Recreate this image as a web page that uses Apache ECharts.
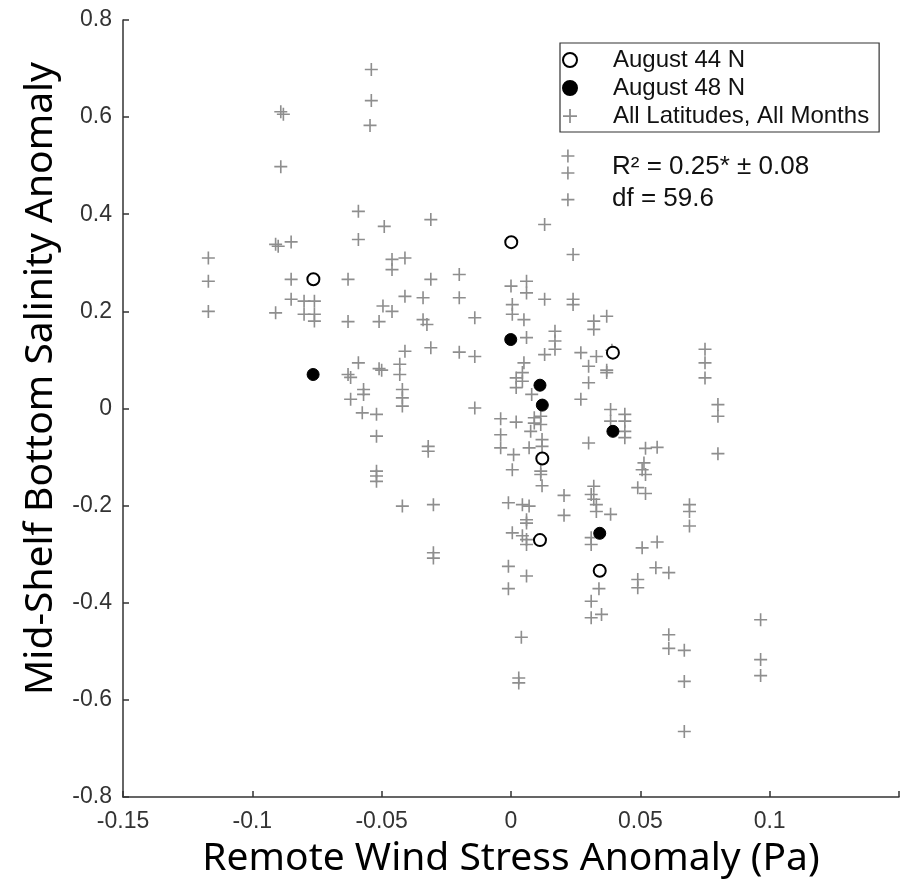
<!DOCTYPE html>
<html>
<head>
<meta charset="utf-8">
<script src="https://cdn.jsdelivr.net/npm/echarts@6/dist/echarts.min.js"></script>
<style>
  html, body { margin: 0; padding: 0; background: #ffffff; }
  #chart { width: 913px; height: 879px; }
</style>
</head>
<body>
<div id="chart"></div>
<script>
// Axis ranges and ticks
const xTicks = { min: -0.15, max: 0.15, step: 0.05 };
const yTicks = { min: -0.8, max: 0.8, step: 0.2 };

// Remote wind stress anomaly (Pa), bottom salinity anomaly
const august44N = [
  [-0.0764, 0.266], [0.0001, 0.3425], [0.0394, 0.115],
  [0.0121, -0.103], [0.0112, -0.271], [0.0343, -0.334]
];

const august48N = [
  [-0.0765, 0.070], [-0.0001, 0.142], [0.0112, 0.048],
  [0.0121, 0.007], [0.0394, -0.047], [0.0343, -0.257]
];

const allLatitudesAllMonths = [
  [-0.054, 0.698], [-0.054, 0.634], [-0.0545, 0.583], [-0.089, 0.611], [-0.088, 0.606],
  [-0.089, 0.498], [-0.059, 0.406], [-0.049, 0.375], [-0.059, 0.348], [-0.091, 0.338],
  [-0.090, 0.334], [-0.085, 0.343], [-0.117, 0.310], [-0.117, 0.262], [-0.085, 0.266],
  [-0.063, 0.266], [-0.046, 0.307], [-0.041, 0.310], [-0.046, 0.286], [-0.041, 0.231],
  [-0.117, 0.200], [-0.091, 0.197], [-0.085, 0.225], [-0.080, 0.221], [-0.076, 0.221],
  [-0.080, 0.194], [-0.076, 0.194], [-0.076, 0.180], [-0.063, 0.179], [-0.051, 0.179],
  [-0.0495, 0.211], [-0.046, 0.200], [-0.059, 0.094], [-0.063, 0.070], [-0.062, 0.064],
  [-0.051, 0.082], [-0.050, 0.079], [-0.041, 0.118], [-0.043, 0.091], [-0.043, 0.070],
  [-0.042, 0.039], [-0.042, 0.022], [-0.042, 0.005], [-0.057, 0.039], [-0.057, 0.029],
  [-0.062, 0.019], [-0.0575, -0.009], [-0.052, -0.012], [-0.052, -0.057], [-0.052, -0.129],
  [-0.052, -0.139], [-0.052, -0.150], [-0.042, -0.201],
  [0.022, 0.520], [0.022, 0.485], [0.022, 0.430], [-0.031, 0.389], [0.013, 0.379],
  [0.024, 0.317], [-0.031, 0.266], [-0.020, 0.276], [-0.034, 0.228], [-0.020, 0.228],
  [-0.014, 0.187], [-0.034, 0.183], [-0.0325, 0.173], [-0.031, 0.125], [-0.020, 0.116],
  [-0.014, 0.107], [0.000, 0.252], [0.006, 0.262], [0.006, 0.238], [0.013, 0.225],
  [0.024, 0.225], [0.024, 0.214], [0.0005, 0.214], [0.0005, 0.194], [0.005, 0.183],
  [0.006, 0.146], [0.017, 0.159], [0.017, 0.139], [0.017, 0.122], [0.013, 0.111],
  [0.032, 0.180], [0.037, 0.190], [0.032, 0.163], [0.027, 0.115], [0.033, 0.107],
  [0.030, 0.087], [0.037, 0.079], [0.039, 0.120], [0.005, 0.094], [0.0044, 0.074],
  [0.002, 0.063], [0.0044, 0.056], [0.002, 0.043], [0.008, 0.029], [-0.004, -0.021],
  [0.002, -0.028], [0.009, -0.019], [0.009, -0.030], [0.0115, -0.016], [0.0115, -0.033],
  [0.0076, -0.047], [-0.004, -0.054], [-0.004, -0.081], [0.012, -0.064], [0.012, -0.078],
  [0.007, -0.081], [0.001, -0.095], [0.0005, -0.126], [0.0115, -0.129], [0.0115, -0.136],
  [0.012, -0.159], [0.0205, -0.179], [0.0205, -0.220], [-0.001, -0.194], [0.0044, -0.198],
  [0.007, -0.201], [0.006, -0.229], [0.006, -0.236], [0.0005, -0.256], [0.0044, -0.262],
  [0.006, -0.270], [0.006, -0.280], [-0.001, -0.325], [0.006, -0.345], [-0.001, -0.371],
  [0.004, -0.471], [0.003, -0.555], [0.003, -0.565], [0.030, 0.053], [0.037, 0.074],
  [0.027, 0.019], [-0.014, 0.001], [-0.032, -0.078], [-0.032, -0.088], [-0.030, -0.198],
  [-0.030, -0.297], [-0.030, -0.308], [0.030, -0.071], [0.0385, -0.002], [0.0385, -0.026],
  [0.044, -0.012], [0.044, -0.026], [0.044, -0.047], [0.044, -0.060],
  [0.052, -0.082], [0.0565, -0.080], [0.0514, -0.112], [0.0507, -0.126], [0.052, -0.136],
  [0.049, -0.163], [0.052, -0.175], [0.032, -0.160], [0.031, -0.177], [0.032, -0.187],
  [0.033, -0.198], [0.033, -0.212], [0.0385, -0.218], [0.031, -0.266], [0.031, -0.280],
  [0.034, -0.371], [0.031, -0.397], [0.031, -0.431], [0.035, -0.424], [0.0507, -0.287],
  [0.049, -0.352], [0.049, -0.369], [0.0565, -0.275], [0.056, -0.328], [0.061, -0.338],
  [0.075, 0.122], [0.075, 0.094], [0.075, 0.063], [0.080, 0.008], [0.080, -0.016],
  [0.080, -0.093], [0.069, -0.198], [0.069, -0.212], [0.069, -0.242], [0.0965, -0.435],
  [0.0965, -0.517], [0.0965, -0.550], [0.061, -0.466], [0.061, -0.494], [0.067, -0.498],
  [0.067, -0.562], [0.067, -0.665]
];

const seriesNames = ['August 44 N', 'August 48 N', 'All Latitudes, All Months'];
const statLines = ['R\u00B2 = 0.25* \u00B1 0.08', 'df = 59.6'];

// Plus-shaped marker drawn as a filled outline
const plusPath = 'path://M5.25,0 h1.5 v5.25 h5.25 v1.5 h-5.25 v5.25 h-1.5 v-5.25 h-5.25 v-1.5 h5.25 z';

const sansFamily = 'Liberation Sans, Arial, sans-serif';
const tickFont = { fontFamily: sansFamily, fontSize: 23, color: '#333333' };
const titleFont = { fontFamily: 'Noto Sans, sans-serif', fontSize: 39, color: '#000000' };
const fmt = v => (Math.abs(v - xTicks.max) < 1e-9 ? '' : String(Number(v.toFixed(2))));

const chart = echarts.init(document.getElementById('chart'), null, { renderer: 'canvas' });
chart.setOption({
  backgroundColor: '#ffffff',
  animation: false,
  grid: { left: 123, right: 14, top: 20, bottom: 82, containLabel: false, outerBoundsMode: 'none' },
  xAxis: {
    type: 'value', min: xTicks.min, max: xTicks.max, interval: xTicks.step,
    name: 'Remote Wind Stress Anomaly (Pa)', nameLocation: 'middle', nameGap: 42,
    nameTextStyle: titleFont,
    axisLine: { show: true, onZero: false, lineStyle: { color: '#333333', width: 1.5 } },
    axisTick: { show: true, inside: true, length: 6, lineStyle: { color: '#333333', width: 1.5 } },
    axisLabel: Object.assign({ margin: 13, formatter: fmt }, tickFont),
    splitLine: { show: false }
  },
  yAxis: {
    type: 'value', min: yTicks.min, max: yTicks.max, interval: yTicks.step,
    name: 'Mid-Shelf Bottom Salinity Anomaly', nameLocation: 'middle', nameGap: 63,
    nameTextStyle: Object.assign({ padding: [0, 0, 0, 60] }, titleFont),
    axisLine: { show: true, onZero: false, lineStyle: { color: '#333333', width: 1.5 } },
    axisTick: { show: true, inside: true, length: 6, lineStyle: { color: '#333333', width: 1.5 } },
    axisLabel: Object.assign({ margin: 11, formatter: v => String(Number(v.toFixed(1))) }, tickFont),
    splitLine: { show: false }
  },
  legend: {
    orient: 'vertical', left: 560, top: 43,
    padding: [5, 10, 4, 2],
    itemWidth: 14, itemHeight: 14, itemGap: 4,
    borderColor: '#333333', borderWidth: 1.2,
    backgroundColor: '#ffffff',
    selectedMode: false,
    textStyle: { fontFamily: sansFamily, fontSize: 24, color: '#111111', padding: [0, 0, 0, 31] },
    data: [
      { name: seriesNames[0], icon: 'circle' },
      { name: seriesNames[1], icon: 'circle' },
      { name: seriesNames[2], icon: plusPath }
    ]
  },
  graphic: [
    { type: 'text', left: 612, top: 154, style: { text: statLines[0], font: '26px "Liberation Sans", Arial, sans-serif', fill: '#111111' } },
    { type: 'text', left: 612, top: 186, style: { text: statLines[1], font: '26px "Liberation Sans", Arial, sans-serif', fill: '#111111' } }
  ],
  series: [
    {
      name: seriesNames[2], type: 'scatter', data: allLatitudesAllMonths,
      symbol: plusPath, symbolSize: 13,
      itemStyle: { color: '#8e8e8e', opacity: 1 }, z: 2
    },
    {
      name: seriesNames[0], type: 'scatter', data: august44N,
      symbol: 'circle', symbolSize: 12,
      itemStyle: { color: '#ffffff', borderColor: '#000000', borderWidth: 2, opacity: 1 }, z: 3
    },
    {
      name: seriesNames[1], type: 'scatter', data: august48N,
      symbol: 'circle', symbolSize: 12,
      itemStyle: { color: '#000000', borderColor: '#000000', borderWidth: 1, opacity: 1 }, z: 3
    }
  ]
});
</script>
</body>
</html>
